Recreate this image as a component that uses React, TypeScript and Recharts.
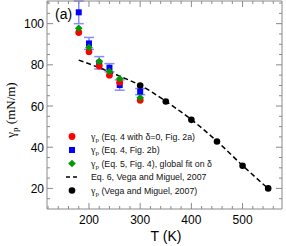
import React from 'react';
import { ComposedChart, Scatter, Line, XAxis, YAxis, ErrorBar } from 'recharts';

// simulation temperatures (K) and surface tension estimates (mN/m)
const temps = [180, 200, 220, 240, 260, 300];
const gammaEq4Delta0 = [95.7, 86.4, 79.4, 75.0, 71.5, 62.8];
const gammaEq4 = [105.5, 90.4, 81.0, 78.6, 70.2, 67.0];
const gammaEq4Err = [5.5, 2.9, 3.0, 2.0, 2.5, 1.5];
const gammaEq5 = [97.8, 88.4, 81.6, 76.8, 73.3, 64.0];

// Vega and Miguel 2007
const vegaTemps = [300, 350, 400, 450, 500, 550];
const vegaGamma = [70.0, 62.2, 53.3, 42.8, 31.0, 20.0];
const eq6Temps = [180, 200, 220, 240, 260, 280, 300, 350, 400, 450, 500, 550];
const eq6Gamma = [82.3, 80.5, 78.6, 76.6, 74.5, 72.4, 70.1, 62.3, 53.4, 42.9, 31.1, 19.9];

const xTicks = [120, 140, 160, 180, 200, 220, 240, 260, 280, 300, 320, 340, 360, 380, 400, 420, 440, 460, 480, 500, 520, 540, 560];
const xLabels = [200, 300, 400, 500];
const yTicks = [15, 20, 25, 30, 35, 40, 45, 50, 55, 60, 65, 70, 75, 80, 85, 90, 95, 100, 105, 110];
const yLabels = [20, 40, 60, 80, 100];

const legendItems = [
  { kind: 'red', text: '(Eq. 4 with δ=0, Fig. 2a)', gamma: true },
  { kind: 'blue', text: '(Eq. 4, Fig. 2b)', gamma: true },
  { kind: 'green', text: '(Eq. 5, Fig. 4), global fit on δ', gamma: true },
  { kind: 'dash', text: 'Eq. 6, Vega and Miguel, 2007', gamma: false },
  { kind: 'black', text: '(Vega and Miguel, 2007)', gamma: true },
];

const eq4d0Data = temps.map((T, i) => ({ T, g: gammaEq4Delta0[i] }));
const eq4Data = temps.map((T, i) => ({ T, g: gammaEq4[i], err: gammaEq4Err[i] }));
const eq5Data = temps.map((T, i) => ({ T, g: gammaEq5[i] }));
const vegaData = vegaTemps.map((T, i) => ({ T, g: vegaGamma[i] }));
const eq6Data = eq6Temps.map((T, i) => ({ T, g: eq6Gamma[i] }));

const AXIS = '#8a8a8a';
const SANS = '"Liberation Sans", Arial, sans-serif';
const SERIF = '"Liberation Serif", "Times New Roman", serif';

const RedDot = (p: any) => <circle cx={p.cx} cy={p.cy} r={3.4} fill="#ff0000" />;
const BlueSquare = (p: any) => <rect x={p.cx - 3} y={p.cy - 3} width={6} height={6} fill="#0000ff" />;
const GreenDiamond = (p: any) => (
  <path d={`M${p.cx},${p.cy - 3.8}L${p.cx + 3.8},${p.cy}L${p.cx},${p.cy + 3.8}L${p.cx - 3.8},${p.cy}Z`} fill="#009a00" />
);
const BlackDot = (p: any) => <circle cx={p.cx} cy={p.cy} r={3.3} fill="#000" />;

const BottomTick = (p: any) => {
  const major = xLabels.includes(p.payload.value);
  return (
    <g>
      <line x1={p.x} x2={p.x} y1={p.y} y2={p.y - (major ? 6 : 3)} stroke={AXIS} />
      {major && (
        <text x={p.x} y={p.y + 15} textAnchor="middle" fontSize={12} fontFamily={SANS} fill="#000">
          {p.payload.value}
        </text>
      )}
    </g>
  );
};

const TopTick = (p: any) => {
  const major = xLabels.includes(p.payload.value);
  return <line x1={p.x} x2={p.x} y1={p.y} y2={p.y + (major ? 6 : 3)} stroke={AXIS} />;
};

const LeftTick = (p: any) => {
  const major = yLabels.includes(p.payload.value);
  return (
    <g>
      <line x1={p.x} x2={p.x + (major ? 6 : 3)} y1={p.y} y2={p.y} stroke={AXIS} />
      {major && (
        <text x={p.x - 3} y={p.y + 4.5} textAnchor="end" fontSize={12} fontFamily={SANS} fill="#000">
          {p.payload.value}
        </text>
      )}
    </g>
  );
};

const RightTick = (p: any) => {
  const major = yLabels.includes(p.payload.value);
  return <line x1={p.x} x2={p.x - (major ? 6 : 3)} y1={p.y} y2={p.y} stroke={AXIS} />;
};

const LegendMarker = ({ kind, cx, cy }: { kind: string; cx: number; cy: number }) => {
  if (kind === 'red') return <RedDot cx={cx} cy={cy} />;
  if (kind === 'blue') return <BlueSquare cx={cx} cy={cy} />;
  if (kind === 'green') return <GreenDiamond cx={cx} cy={cy} />;
  if (kind === 'black') return <BlackDot cx={cx} cy={cy} />;
  return <line x1={cx - 6} x2={cx + 6} y1={cy} y2={cy} stroke="#000" strokeWidth={1.5} strokeDasharray="4 3" />;
};

export default function App() {
  const xDomain = [118, 577];
  const yDomain = [10, 111];
  return (
    <div style={{ position: 'absolute', left: 0, top: 0, width: 286, height: 246, background: '#fff' }}>
      <ComposedChart width={286} height={246} margin={{ top: 0, right: 3, bottom: 0, left: 0 }}>
        <XAxis
          xAxisId="b"
          dataKey="T"
          type="number"
          domain={xDomain}
          allowDataOverflow
          ticks={xTicks}
          interval={0}
          height={37}
          tickSize={0}
          tickMargin={0}
          tickLine={false}
          stroke={AXIS}
          tick={<BottomTick />}
        />
        <XAxis
          xAxisId="t"
          orientation="top"
          dataKey="T"
          type="number"
          domain={xDomain}
          allowDataOverflow
          ticks={xTicks}
          interval={0}
          height={1}
          tickSize={0}
          tickMargin={0}
          tickLine={false}
          stroke={AXIS}
          tick={<TopTick />}
        />
        <YAxis
          yAxisId="l"
          type="number"
          domain={yDomain}
          allowDataOverflow
          ticks={yTicks}
          interval={0}
          width={47}
          tickSize={0}
          tickMargin={0}
          tickLine={false}
          stroke={AXIS}
          tick={<LeftTick />}
        />
        <YAxis
          yAxisId="r"
          orientation="right"
          type="number"
          domain={yDomain}
          allowDataOverflow
          ticks={yTicks}
          interval={0}
          width={1}
          tickSize={0}
          tickMargin={0}
          tickLine={false}
          stroke={AXIS}
          tick={<RightTick />}
        />
        <Scatter xAxisId="b" yAxisId="l" data={eq4Data} dataKey="g" shape={<BlueSquare />} isAnimationActive={false}>
          <ErrorBar dataKey="err" direction="y" width={5} stroke="#8a8aff" strokeWidth={1.5} />
        </Scatter>
        <Scatter xAxisId="b" yAxisId="l" data={eq4d0Data} dataKey="g" shape={<RedDot />} isAnimationActive={false} />
        <Scatter xAxisId="b" yAxisId="l" data={eq5Data} dataKey="g" shape={<GreenDiamond />} isAnimationActive={false} />
        {/* same domains as bottom/left; drawn on the mirror axes so the frame renders */}
        <Line
          xAxisId="t"
          yAxisId="r"
          data={eq6Data}
          dataKey="g"
          type="monotone"
          stroke="#000"
          strokeWidth={1.5}
          strokeDasharray="5 3"
          dot={false}
          isAnimationActive={false}
        />
        <Scatter xAxisId="b" yAxisId="l" data={vegaData} dataKey="g" shape={<BlackDot />} isAnimationActive={false} />
      </ComposedChart>
      <svg width={286} height={246} style={{ position: 'absolute', left: 0, top: 0, pointerEvents: 'none' }}>
        <text x={55} y={19} fontSize={14} fontFamily={SANS} fill="#000">(a)</text>
        <text x={166} y={241} textAnchor="middle" fontSize={14} fontFamily={SANS} fill="#000">T (K)</text>
        <text transform="translate(15,110) rotate(-90)" textAnchor="middle" fontSize={13} fontFamily={SERIF} fill="#000">
          γ<tspan fontSize={9} dy={3}>p</tspan>
          <tspan dy={-3}> (mN/m)</tspan>
        </text>
        {legendItems.map((item, i) => {
          const cy = 136.5 + i * 13.5;
          return (
            <g key={item.kind}>
              <LegendMarker kind={item.kind} cx={72} cy={cy} />
              <text x={91} y={cy + 3} fontSize={8.8} fontFamily={SANS} fill="#111">
                {item.gamma && (
                  <>
                    <tspan fontFamily={SERIF} fontSize={10}>γ</tspan>
                    <tspan fontFamily={SERIF} fontSize={7} dy={2}>p</tspan>
                    <tspan dy={-2}> </tspan>
                  </>
                )}
                {item.text}
              </text>
            </g>
          );
        })}
      </svg>
    </div>
  );
}
